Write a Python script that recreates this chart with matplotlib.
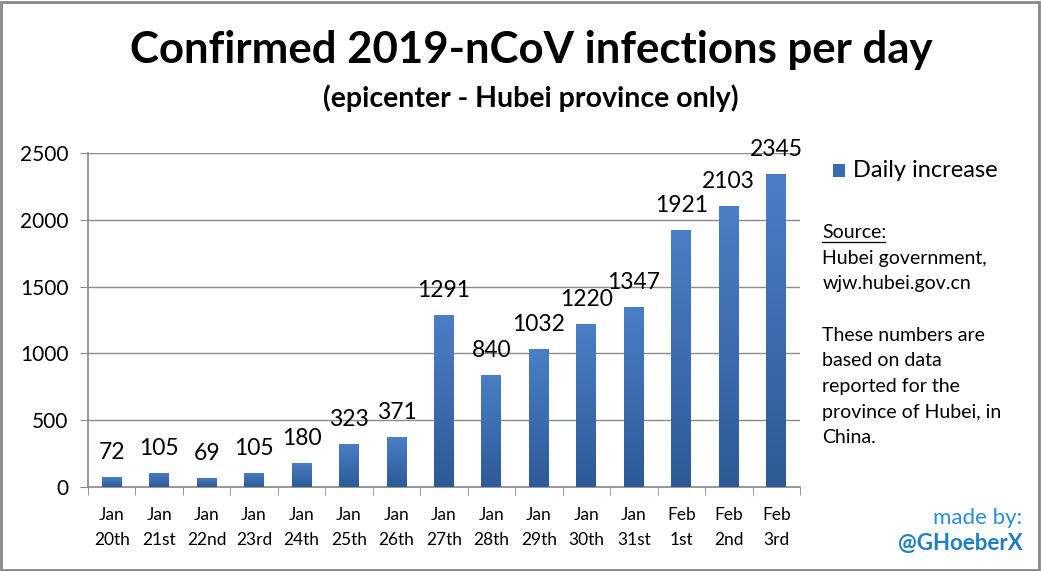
import matplotlib.pyplot as plt
import numpy as np
from matplotlib.patches import Rectangle
from matplotlib.colors import LinearSegmentedColormap

plt.rcParams['font.family'] = ['Lato', 'DejaVu Sans']

days = ['Jan\n20th', 'Jan\n21st', 'Jan\n22nd', 'Jan\n23rd', 'Jan\n24th', 'Jan\n25th',
        'Jan\n26th', 'Jan\n27th', 'Jan\n28th', 'Jan\n29th', 'Jan\n30th', 'Jan\n31st',
        'Feb\n1st', 'Feb\n2nd', 'Feb\n3rd']
daily = [72, 105, 69, 105, 180, 323, 371, 1291, 840, 1032, 1220, 1347, 1921, 2103, 2345]
yticks = [0, 500, 1000, 1500, 2000, 2500]

fig = plt.figure(figsize=(10.41, 5.71), dpi=100)
ax = fig.add_axes([0.0845, 0.147, 0.684, 0.585])

x = np.arange(len(days))
w = 0.42
bars = ax.bar(x, daily, width=w, color='#3a6db0', zorder=2)

# vertical gradient in each bar, lighter on top
grad = np.linspace(0, 1, 256).reshape(-1, 1)
cmap = LinearSegmentedColormap.from_list('b', ['#2d5a97', '#4a7fc6'])
for b in bars:
    x0 = b.get_x()
    h = b.get_height()
    im = ax.imshow(grad, extent=[x0, x0 + w, 0, h], origin='lower', aspect='auto',
                   cmap=cmap, zorder=3)
    im.set_clip_path(b)
    ax.text(x0 + w / 2, h + 105, str(int(h)), ha='center', va='bottom', fontsize=16.5,
            zorder=4, clip_on=False)

ax.set_xlim(-0.5, len(days) - 0.5)
ax.set_ylim(0, 2500)
ax.set_yticks(yticks)
ax.set_yticklabels([str(v) for v in yticks], fontsize=15)
ax.set_xticks(x)
ax.set_xticklabels(days, fontsize=12.5, linespacing=1.75)
ax.set_xticks(np.arange(-0.5, len(days), 1), minor=True)
ax.tick_params(axis='x', which='major', length=0, pad=14)
ax.tick_params(axis='x', which='minor', length=6, color='#888888', direction='out')
ax.tick_params(axis='y', length=6, color='#888888', pad=8)
ax.grid(axis='y', color='#8c8c8c', linewidth=1, zorder=0)
for s in ['top', 'right']:
    ax.spines[s].set_visible(False)
for s in ['left', 'bottom']:
    ax.spines[s].set_color('#888888')
    ax.spines[s].set_linewidth(1.2)

fig.text(0.51, 0.913, 'Confirmed 2019-nCoV infections per day', ha='center', va='center',
         fontsize=31.5, fontweight='bold')
fig.text(0.51, 0.828, '(epicenter - Hubei province only)', ha='center', va='center',
         fontsize=20.5, fontweight='bold')

# legend
fig.patches.append(Rectangle((0.800, 0.69), 0.012, 0.023, transform=fig.transFigure,
                             facecolor='#3a6db0', edgecolor='none'))
fig.text(0.819, 0.701, 'Daily increase', ha='left', va='center', fontsize=17)

note = ('Source:\nHubei government,\nwjw.hubei.gov.cn\n\nThese numbers are\nbased on data\n'
        'reported for the\nprovince of Hubei, in\nChina.')
fig.text(0.790, 0.608, note, ha='left', va='top', fontsize=14, linespacing=1.62)
fig.add_artist(plt.Line2D([0.790, 0.850], [0.577, 0.577], transform=fig.transFigure,
                          color='black', linewidth=0.9))

fig.text(0.982, 0.093, 'made by:', ha='right', va='center', fontsize=16, color='#2b8fd6')
fig.text(0.982, 0.049, '@GHoeberX', ha='right', va='center', fontsize=16, color='#1e7fc6',
         fontweight='bold')

fig.patches.append(Rectangle((0.001, 0.002), 0.997, 0.995, transform=fig.transFigure,
                             facecolor='none', edgecolor='#888888', linewidth=2))

fig.savefig('out.png', dpi=100)
